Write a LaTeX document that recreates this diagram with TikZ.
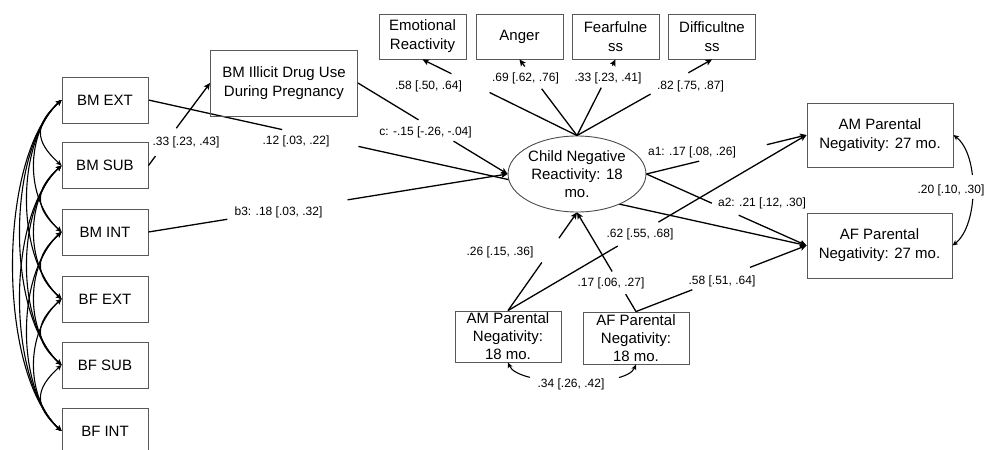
\documentclass[tikz,border=0pt]{standalone}
\usepackage{fontspec}
\setmainfont{Liberation Sans}
\usetikzlibrary{arrows.meta,shapes.geometric,backgrounds}

\tikzset{
  box/.style={draw=black!65, line width=0.9pt, inner sep=0pt, align=center,
              font=\fontsize{15}{19}\selectfont},
  tightbox/.style={box, font=\fontsize{15}{18}\selectfont},
  latent/.style={ellipse, draw=black!70, line width=0.9pt, fill=white, inner sep=0pt,
              align=center, font=\fontsize{15}{18.3}\selectfont},
  lbl/.style={fill=white, inner sep=0.5pt, font=\fontsize{12}{14}\selectfont},
  path/.style={line width=1.3pt, -{Stealth[length=6.5pt,width=6pt,inset=1.5pt]}},
  corr/.style={line width=1.1pt, {Stealth[length=5.5pt,width=5pt,inset=1.5pt]}-{Stealth[length=5.5pt,width=5pt,inset=1.5pt]}},
  gap/.style 2 args={dash pattern=on #1pt off #2pt on 2000pt}
}

\begin{document}
\begin{tikzpicture}[x=1pt,y=-1pt]
\useasboundingbox (0,0) rectangle (986,450);

% biological parent covariates
\node[box, minimum width=86, minimum height=46] (bmext) at (105,100)   {BM EXT};
\node[box, minimum width=86, minimum height=46] (bmsub) at (105,165.5) {BM SUB};
\node[box, minimum width=86, minimum height=46] (bmint) at (105,232)   {BM INT};
\node[box, minimum width=86, minimum height=46] (bfext) at (105,299)   {BF EXT};
\node[box, minimum width=86, minimum height=46] (bfsub) at (105,365)   {BF SUB};
\node[box, minimum width=86, minimum height=46] (bfint) at (105,431)   {BF INT};

% prenatal exposure
\node[box, minimum width=147, minimum height=66] (bmi) at (284,83)
  {BM Illicit Drug Use\\During Pregnancy};

% indicators of the latent factor
\node[box, minimum width=87, minimum height=45] (er)   at (422.5,36.5) {Emotional\\Reactivity};
\node[box, minimum width=87, minimum height=45] (ang)  at (519.5,36.5) {Anger};
\node[box, minimum width=87, minimum height=45] (fear) at (615.5,36.5) {Fearfulne\\ss};
\node[box, minimum width=87, minimum height=45] (diff) at (712,36.5)   {Difficultne\\ss};

% adoptive parent negativity
\node[box, minimum width=146, minimum height=64] (am27) at (880,135)   {AM Parental\\Negativity: 27 mo.};
\node[box, minimum width=145, minimum height=65] (af27) at (879.5,245.5) {AF Parental\\Negativity: 27 mo.};
\node[tightbox, minimum width=106, minimum height=51] (am18) at (508,336.5) {AM Parental\\Negativity:\\18 mo.};
\node[tightbox, minimum width=106, minimum height=52] (af18) at (636,338)   {AF Parental\\Negativity:\\18 mo.};

% latent child factor (white fill hides the path running behind it)
\node[latent, minimum width=135, minimum height=76] (cnr) at (577,174)
  {Child Negative\\Reactivity: 18\\mo.};

% direct path from BM EXT, running behind the ellipse
\begin{pgfonlayer}{background}
\draw[path, gap={137}{78}] (bmext.east) -- (af27.west);
\end{pgfonlayer}

% covariances among biological parent measures
\foreach \i/\a in {1/bmext,2/bmsub,3/bmint,4/bfext,5/bfsub}{
  \foreach \j/\b in {2/bmsub,3/bmint,4/bfext,5/bfsub,6/bfint}{
    \ifnum\j>\i
      \pgfmathsetmacro{\h}{18+9.3*(\j-\i)}
      \pgfmathsetmacro{\s}{0.9*\h}
      \draw[corr] (\a.west) .. controls +(-\h,\s) and +(-\h,-\s) .. (\b.west);
    \fi
  }
}

% structural paths
\draw[path, gap={11.7}{34.8}] (bmsub.east) -- (bmi.west);
\draw[path, gap={70.9}{41}]   (bmi.east) -- (cnr.west);
\draw[path, gap={79.9}{121.8}] (bmint.east) -- (cnr.west);

% factor loadings
\draw[path, gap={97.5}{42.5}] (cnr.north) -- (er.south);
\draw[path, gap={58.6}{28}]   (cnr.north) -- (ang.south);
\draw[path, gap={53.7}{24.7}] (cnr.north) -- (fear.south);
\draw[path, gap={84.5}{43.3}] (cnr.north) -- (diff.south);

% child effects on later parenting
\draw[path, gap={54.3}{69.6}] (cnr.east) -- (am27.west);
\draw[path, gap={71.6}{29.5}] (cnr.east) -- (af27.west);

% parenting at 18 months
\draw[path, gap={58.8}{29.7}] (am18.north) -- (cnr.south);
\draw[path, gap={127.3}{47.2}] (am18.north) -- (am27.west);
\draw[path, gap={20.2}{26.4}] (af18.north) -- (cnr.south);
\draw[path, gap={60.4}{61.8}] (af18.north) -- (af27.west);

% residual covariances
\draw[corr, gap={42}{24}] (am27.east) .. controls +(26,20) and +(26,-20) .. (af27.east);
\draw[corr, gap={24}{90}] (am18.south) .. controls +(10,24) and +(-10,24) .. (af18.south);

% estimates
\node[lbl] (l33a) at (186,142)   {.33 [.23, .43]};
\node[lbl] (l12)  at (296,141)   {.12 [.03, .22]};
\node[lbl] (lc)   at (425.5,132) {c: -.15 [-.26, -.04]};
\node[lbl] (lb3)  at (278.5,212) {b3: .18 [.03, .32]};
\node[lbl] (l58a) at (428.5,86)  {.58 [.50, .64]};
\node[lbl] (l69)  at (525.5,78.5) {.69 [.62, .76]};
\node[lbl] (l33b) at (608,78.5)  {.33 [.23, .41]};
\node[lbl] (l82)  at (690.5,86)  {.82 [.75, .87]};
\node[lbl] (la1)  at (692,152)   {a1: .17 [.08, .26]};
\node[lbl] (la2)  at (762,203)   {a2: .21 [.12, .30]};
\node[lbl] (l62)  at (640,234)   {.62 [.55, .68]};
\node[lbl] (l26)  at (500,252)   {.26 [.15, .36]};
\node[lbl] (l17)  at (611,283)   {.17 [.06, .27]};
\node[lbl] (l58b) at (722,281)   {.58 [.51, .64]};
\node[lbl] (l20)  at (951,190)   {.20 [.10, .30]};
\node[lbl] (l34)  at (571,384)   {.34 [.26, .42]};
\end{tikzpicture}
\end{document}
